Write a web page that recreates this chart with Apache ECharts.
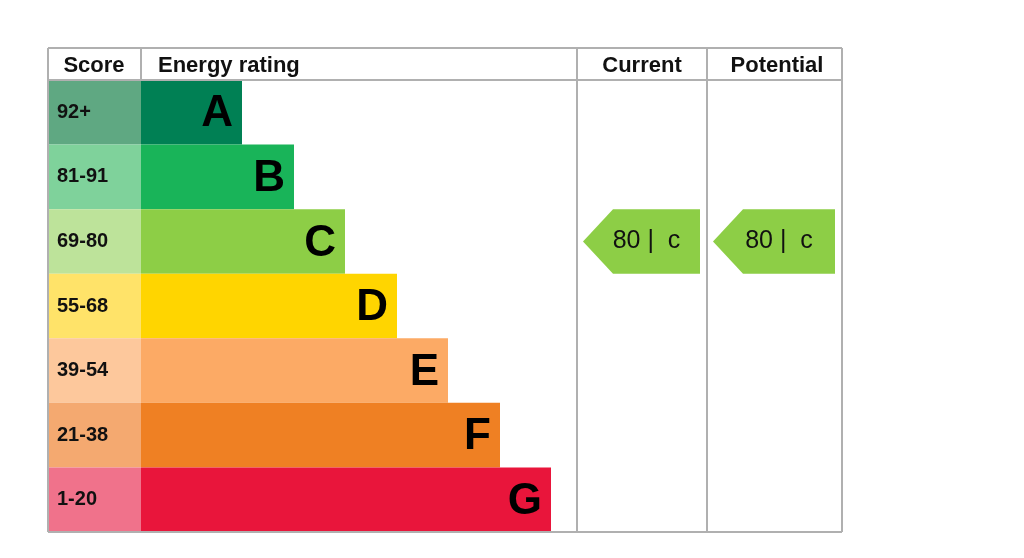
<!DOCTYPE html>
<html><head><meta charset="utf-8">
<script src="https://cdn.jsdelivr.net/npm/echarts@6/dist/echarts.min.js"></script>
<style>html,body{margin:0;background:#fff}#c{width:1024px;height:558px}</style>
</head><body><div id="c"></div>
<script>
const ratings = ['A','B','C','D','E','F','G'];
const scores = ['92+','81-91','69-80','55-68','39-54','21-38','1-20'];
const barLengths = [101,153,204,256,307,359,410];
const barColors = ['#008054','#19b459','#8dce46','#ffd500','#fcaa65','#ef8023','#e9153b'];
const scoreColors = ['#5fa882','#7fd29b','#bde39a','#ffe369','#fdc89c','#f4a970','#f0728b'];
const currentRating = {row:'C', score:80, letter:'c'};
const potentialRating = {row:'C', score:80, letter:'c'};

const chart = echarts.init(document.getElementById('c'));
const F = 'Liberation Sans, Arial, sans-serif';
const grids = [
  {left:48, top:80, width:93, height:452},
  {left:141, top:80, width:436, height:452},
  {left:577, top:80, width:130, height:452},
  {left:707, top:80, width:135, height:452}
];
const xAxes = grids.map((g,i)=>({gridIndex:i, type:'value', min:0, max:i===1?436:1, show:false}));
const yAxes = grids.map((g,i)=>({gridIndex:i, type:'category', data:ratings, inverse:true, show:false}));
function arrow(rec){
  return {
    type:'custom', xAxisIndex:rec.idx, yAxisIndex:rec.idx, coordinateSystem:'cartesian2d',
    data:[[0, rec.row]],
    renderItem:(params, api)=>{
      const c = api.coord([0, api.value(1)]);
      const h = api.size([0,1])[1];
      const cs = params.coordSys;
      const x0 = cs.x+6, x1 = cs.x+cs.width-7, y0=c[1]-h/2, y1=c[1]+h/2, tip=x0+30;
      return {type:'group', children:[
        {type:'polygon', shape:{points:[[x0,c[1]],[tip,y0],[x1,y0],[x1,y1],[tip,y1]]}, style:{fill:'#8dce46'}},
        {type:'text', style:{text:rec.score+' |  '+rec.letter, x:(x0+x1)/2+5, y:c[1], align:'center', verticalAlign:'middle', fontFamily:F, fontSize:25, fill:'#111'}}
      ]};
    }
  };
}
const line = '#b0b0b0';
function L(x1,y1,x2,y2){return {type:'line', shape:{x1,y1,x2,y2}, style:{stroke:line, lineWidth:2}, z:10};}
function T(text,x,align){return {type:'text', style:{text, x, y:66, align, verticalAlign:'middle', fontFamily:F, fontWeight:'bold', fontSize:22, fill:'#111'}};}
chart.setOption({
  animation:false,
  grid:grids, xAxis:xAxes, yAxis:yAxes,
  series:[
    {type:'bar', xAxisIndex:0, yAxisIndex:0, barWidth:'100%', data:scores.map((s,i)=>({value:1, itemStyle:{color:scoreColors[i]}})),
     label:{show:true, position:'insideLeft', offset:[4,0], formatter:p=>scores[p.dataIndex], fontFamily:F, fontWeight:'bold', fontSize:20, color:'#111'}},
    {type:'bar', xAxisIndex:1, yAxisIndex:1, barWidth:'100%', data:barLengths.map((v,i)=>({value:v, itemStyle:{color:barColors[i]}})),
     label:{show:true, position:'insideRight', offset:[-4,2], formatter:p=>ratings[p.dataIndex], fontFamily:F, fontWeight:'bold', fontSize:44, color:'#000'}},
    arrow(Object.assign({idx:2}, currentRating)),
    arrow(Object.assign({idx:3}, potentialRating))
  ],
  graphic:[
    L(48,48,842,48), L(48,80,842,80), L(48,532,842,532),
    L(48,48,48,532), L(842,48,842,532), L(141,48,141,80), L(577,48,577,532), L(707,48,707,532),
    T('Score',94,'center'), T('Energy rating',158,'left'), T('Current',642,'center'), T('Potential',777,'center')
  ]
});
</script></body></html>
